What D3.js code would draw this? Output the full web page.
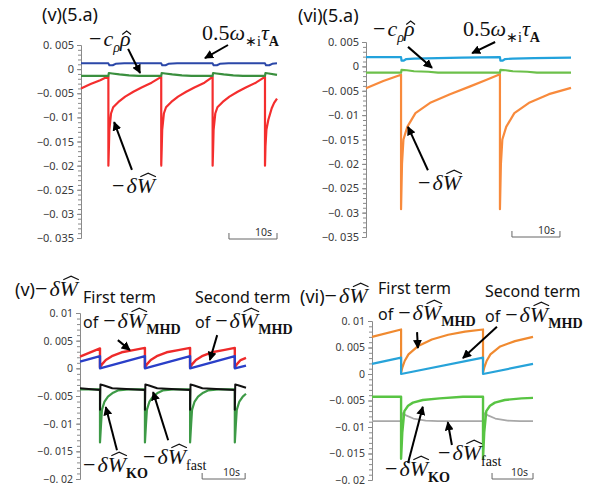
<!DOCTYPE html>
<html>
<head>
<meta charset="utf-8">
<script src="https://cdn.jsdelivr.net/npm/d3@7"></script>
<style>
  body { margin: 0; background: #fff; }
  svg { display: block; }
  svg text { white-space: pre; }
  .axis path, .axis line { stroke: #8a8a8a; }
  .axis text { font-family: "Noto Sans", sans-serif; fill: #3a3a3a; }
</style>
</head>
<body>
<svg id="chart" width="595" height="488"></svg>
<script>
// Tick labels (as printed in the figure)
var tickValuesTop = [0.005, 0, -0.005, -0.01, -0.015, -0.02, -0.025, -0.03, -0.035];
var tickLabelsTop = ["0. 005", "0", "\u22120. 005", "\u22120. 01", "\u22120. 015", "\u22120. 02", "\u22120. 025", "\u22120. 03", "\u22120. 035"];
var tickValuesBottom = [0.01, 0.005, 0, -0.005, -0.01, -0.015, -0.02];
var tickLabelsBottom = ["0. 01", "0. 005", "0", "\u22120. 005", "\u22120. 01", "\u22120. 015", "\u22120. 02"];
var scaleBarSeconds = 10;

// (v)(5.a)  [time s, value]
var dWa = [[0,-0.0040],[2,-0.0031],[4,-0.0023],[5.7,-0.0015],[5.7,-0.0200],[5.8,-0.0165],[5.9,-0.0126],[6.25,-0.0092],[6.7,-0.0079],[7.8,-0.0068],[9.2,-0.0057],[10.9,-0.0047],[12.6,-0.0038],[14.7,-0.0028],[16.7,-0.0016],
  [16.7,-0.0200],[16.8,-0.0165],[16.9,-0.0126],[17.25,-0.0092],[17.7,-0.0079],[18.8,-0.0068],[20.2,-0.0057],[21.9,-0.0047],[23.6,-0.0038],[25.7,-0.0028],[27.4,-0.0016],
  [27.4,-0.0200],[27.5,-0.0165],[27.6,-0.0126],[27.95,-0.0092],[28.4,-0.0079],[29.5,-0.0068],[30.9,-0.0057],[32.6,-0.0047],[34.3,-0.0038],[36.4,-0.0028],[38.3,-0.0016],
  [38.3,-0.0200],[38.4,-0.0160],[38.6,-0.0125],[39.0,-0.0105],[39.7,-0.0081],[40.2,-0.0070],[40.8,-0.0061]];
var omegaA = [[0,0.0012],[5.7,0.0012],[5.9,0.0008],[6.6,0.0008],[7.2,0.0011],[9,0.0012],[16.7,0.0012],[16.9,0.0008],[17.6,0.0008],[18.2,0.0011],[20,0.0012],
  [27.4,0.0012],[27.6,0.0008],[28.3,0.0008],[28.9,0.0011],[30.7,0.0012],[38.3,0.0012],[38.5,0.0008],[39.2,0.0008],[39.8,0.0011],[40.8,0.0012]];
var crhoA = [[0,-0.0014],[5.7,-0.0014],[5.8,-0.0008],[6.5,-0.0009],[8,-0.0011],[10,-0.0013],[12,-0.0014],[16.7,-0.0014],[16.8,-0.0008],[17.5,-0.0009],[19,-0.0011],[21,-0.0013],[23,-0.0014],
  [27.4,-0.0014],[27.5,-0.0008],[28.2,-0.0009],[29.7,-0.0011],[31.7,-0.0013],[33.7,-0.0014],[38.3,-0.0014],[38.4,-0.0008],[39.1,-0.0009],[40.8,-0.0012]];

// (vi)(5.a)
var dWb = [[0,-0.0045],[3.6,-0.0030],[7.3,-0.0017],[7.3,-0.0293],[7.5,-0.0200],[7.8,-0.0150],[8.6,-0.0124],[10.3,-0.0096],[13.5,-0.0074],[17.5,-0.0057],[21.7,-0.0041],[25,-0.0028],[27.9,-0.0016],
  [27.9,-0.0293],[28.1,-0.0200],[28.4,-0.0150],[29.2,-0.0124],[30.9,-0.0096],[34.1,-0.0074],[38.1,-0.0057],[42.7,-0.0044]];
var omegaB = [[0,0.0019],[7.3,0.0019],[7.4,0.0012],[7.9,0.0012],[8.4,0.0015],[10,0.0016],[15,0.0017],[20,0.0018],[27.9,0.0019],[28.0,0.0012],[28.5,0.0012],[29,0.0015],[30.6,0.0016],[35,0.0017],[42.7,0.0018]];
var crhoB = [[0,-0.0013],[7.3,-0.0013],[7.4,-0.0007],[8.5,-0.0008],[10,-0.0010],[13,-0.0011],[15,-0.0013],[27.9,-0.0013],[28.0,-0.0007],[29.1,-0.0008],[30.6,-0.0010],[33.6,-0.0011],[35.6,-0.0013],[42.7,-0.0013]];

// (v) -dW decomposition
var mhd1C = [[0,0.0021],[4.65,0.0036],[4.65,0.0002],[5.2,0.0008],[6,0.0015],[7.4,0.0022],[9.7,0.0029],[12.4,0.0033],[15.1,0.0037],
  [15.1,0.0002],[15.65,0.0008],[16.45,0.0015],[17.85,0.0022],[20.15,0.0029],[22.85,0.0033],[25.6,0.0037],
  [25.6,0.0002],[26.15,0.0008],[26.95,0.0015],[28.35,0.0022],[30.65,0.0029],[33.35,0.0033],[36.0,0.0037],
  [36.0,0.0002],[36.55,0.0008],[37.35,0.0015],[38.6,0.0019]];
var mhd2C = [[0,0.0012],[4.65,0.0022],[4.65,0.0000],[15.1,0.0022],[15.1,0.0000],[25.6,0.0022],[25.6,0.0000],[36.0,0.0022],[36.0,0.0000],[38.6,0.0005]];
var koC = [[0,-0.0038],[4.65,-0.0038],[4.65,-0.0134],[4.9,-0.0100],[5.1,-0.0075],[5.7,-0.0060],[6.5,-0.0051],[7.7,-0.0044],[8.8,-0.0040],[11.2,-0.0038],
  [15.1,-0.0038],[15.1,-0.0134],[15.35,-0.0100],[15.55,-0.0075],[16.15,-0.0060],[16.95,-0.0051],[18.15,-0.0044],[19.25,-0.0040],[21.65,-0.0038],
  [25.6,-0.0038],[25.6,-0.0134],[25.85,-0.0100],[26.05,-0.0075],[26.65,-0.0060],[27.45,-0.0051],[28.65,-0.0044],[29.75,-0.0040],[32.15,-0.0038],
  [36.0,-0.0038],[36.0,-0.0134],[36.25,-0.0100],[36.45,-0.0075],[37.05,-0.0060],[37.85,-0.0051],[38.6,-0.0046]];
var fastC = [[0,-0.0036],[4.65,-0.0039],[4.65,-0.0075],[4.75,-0.0029],[5.6,-0.0031],[7.5,-0.0036],[15.1,-0.0039],[15.1,-0.0075],[15.2,-0.0029],[16.05,-0.0031],[17.95,-0.0036],
  [25.6,-0.0039],[25.6,-0.0075],[25.7,-0.0029],[26.55,-0.0031],[28.45,-0.0036],[36.0,-0.0039],[36.0,-0.0075],[36.1,-0.0029],[36.95,-0.0031],[38.6,-0.0035]];

// (vi) -dW decomposition
var mhd1D = [[0,0.0070],[7.1,0.0084],[7.1,0.0003],[7.4,0.0012],[8.0,0.0025],[8.9,0.0037],[11.3,0.0053],[14.6,0.0065],[18.6,0.0074],[22.7,0.0080],[27.1,0.0084],
  [27.1,0.0003],[27.4,0.0012],[28.0,0.0025],[28.9,0.0037],[31.3,0.0052],[34.9,0.0062],[39.3,0.0070]];
var mhd2D = [[0,0.0019],[7.1,0.0031],[7.1,0.0000],[27.1,0.0031],[27.1,0.0000],[39.3,0.0019]];
var koD = [[0,-0.0043],[7.1,-0.0043],[7.1,-0.0160],[7.4,-0.0110],[7.9,-0.0070],[8.8,-0.0060],[10,-0.0054],[12.4,-0.0049],[16.5,-0.0046],[22.2,-0.0043],
  [27.1,-0.0043],[27.1,-0.0160],[27.4,-0.0110],[27.9,-0.0070],[28.8,-0.0060],[30,-0.0054],[32.4,-0.0049],[36.5,-0.0046],[39.3,-0.0045]];
var fastD = [[0,-0.0089],[7.1,-0.0089],[7.4,-0.0074],[8.3,-0.0078],[10.1,-0.0084],[13.1,-0.0088],[16.1,-0.0089],
  [27.1,-0.0089],[27.4,-0.0074],[28.3,-0.0078],[30.1,-0.0084],[33.1,-0.0088],[36.1,-0.0089],[39.3,-0.0089]];

// math label pieces
var cRho = [{s:"\u2212", gap:2}, {s:"c", it:1}, {s:"\u03c1", it:1, sub:1}, {s:"\u03c1", it:1, hat:"lo"}];
var omegaLbl = [{s:"0.5"}, {s:"\u03c9", it:1}, {s:"\u2217i", sub:1}, {s:"\u03c4", it:1}, {s:"A", sub:1, bold:1}];
function dWhat(sub, bold) {
    var p = [{s:"\u2212", gap:2}, {s:"\u03b4", it:1}, {s:"W", it:1, hat:"hi"}];
    if (sub) p.push({s:sub, sub:1, bold:bold});
    return p;
}
function ofMHD() { return [{s:"of", sans:1, fs:16, gap:5}].concat(dWhat("MHD", 1)); }

var svg = d3.select("#chart");
svg.append("defs").append("marker")
    .attr("id", "ah")
    .attr("viewBox", "0 0 10 10")
    .attr("refX", 9).attr("refY", 5)
    .attr("markerWidth", 4.5).attr("markerHeight", 4.5)
    .attr("orient", "auto")
    .append("path").attr("d", "M0,0 L10,5 L0,10 z").attr("fill", "#000");

function mathLabel(g, x, y, parts, size) {
    var cx = x;
    parts.forEach(function(p) {
        var fs = p.fs || (p.sub ? size * 0.64 : size);
        var t = g.append("text")
            .attr("x", cx)
            .attr("y", y + (p.sub ? size * 0.27 : 0))
            .style("font-family", p.sans ? '"Noto Sans", sans-serif' : '"Liberation Serif", serif')
            .style("font-size", fs + "px")
            .style("font-style", p.it ? "italic" : "normal")
            .style("font-weight", p.bold ? "bold" : "normal")
            .attr("fill", "#111")
            .text(p.s);
        var w = t.node().getComputedTextLength();
        if (p.hat) {
            var top = p.hat == "hi" ? y - size * 0.74 : y - size * 0.52;
            var x0 = cx + w * (p.hat == "hi" ? 0.2 : 0.22), x1 = cx + w * 1.05;
            g.append("path")
                .attr("d", "M" + x0 + "," + top + " L" + ((x0 + x1) / 2) + "," + (top - 3.5) + " L" + x1 + "," + top)
                .attr("fill", "none").attr("stroke", "#111").attr("stroke-width", 1.2);
        }
        cx += w + (p.gap || 0);
    });
    return cx;
}

var panels = [
    {xr:[81,277], tEnd:40.8, yr:[238,45], dom:[-0.035,0.005], ticks:tickValuesTop, labels:tickLabelsTop, tfs:11,
     series:[{d:dWa, c:"#f42e2e", w:2.2}, {d:crhoA, c:"#3a8f3e", w:2.2}, {d:omegaA, c:"#2b47a8", w:2}],
     bar:[30.8, 239],
     arrows:[[9.8,0.0042,12.3,-0.0008],[30.6,0.005,25.8,0.0023],[10.6,-0.0209,6.9,-0.0110]],
     texts:[{x:42,y:21,p:[{s:"(v)(5.a)", sans:1, fs:18}]}, {x:89,y:46,p:cRho}, {x:202,y:40,p:omegaLbl}, {x:112,y:193,p:dWhat()}]},
    {xr:[366,571], tEnd:42.7, yr:[237,42], dom:[-0.035,0.005], ticks:tickValuesTop, labels:tickLabelsTop, tfs:11,
     series:[{d:dWb, c:"#f88a3c", w:2.2}, {d:crhoB, c:"#6cc04a", w:2.2}, {d:omegaB, c:"#22a2dc", w:2.2}],
     bar:[30.4, 237],
     arrows:[[8.75,0.0040,13.75,-0.0003],[26.9,0.005,22.1,0.0027],[12.9,-0.0213,8.75,-0.0124]],
     texts:[{x:298,y:22,p:[{s:"(vi)(5.a)", sans:1, fs:18}]}, {x:373,y:36,p:cRho}, {x:463,y:36,p:omegaLbl}, {x:418,y:190,p:dWhat()}]},
    {xr:[80,246], tEnd:38.6, yr:[479,313], dom:[-0.02,0.01], ticks:tickValuesBottom, labels:tickLabelsBottom, tfs:10.5,
     series:[{d:mhd1C, c:"#ee2a2a", w:2.4}, {d:mhd2C, c:"#2a3fc8", w:2.4}, {d:koC, c:"#3d9a46", w:2.2}, {d:fastC, c:"#111", w:2}],
     bar:[28.4, 479],
     arrows:[[8.8,0.0051,11.6,0.0033],[31.9,0.0060,30.2,0.0015],[8.6,-0.0148,6.0,-0.0070],[20.5,-0.0130,17.0,-0.0043]],
     texts:[{x:15,y:296,p:[{s:"(v)", sans:1, fs:18}].concat(dWhat())},
            {x:83,y:303,p:[{s:"First term", sans:1, fs:16}]}, {x:83,y:328,p:ofMHD()},
            {x:195,y:303,p:[{s:"Second term", sans:1, fs:16}]}, {x:195,y:328,p:ofMHD()},
            {x:83,y:472,p:dWhat("KO", 1)}, {x:143,y:464,p:dWhat("fast")}]},
    {xr:[372,533], tEnd:39.3, yr:[480,321], dom:[-0.02,0.01], ticks:tickValuesBottom, labels:tickLabelsBottom, tfs:10.5,
     series:[{d:fastD, c:"#a8a8a8", w:1.8}, {d:koD, c:"#58c443", w:2.4}, {d:mhd1D, c:"#f08a30", w:2.2}, {d:mhd2D, c:"#27a3d9", w:2.2}],
     bar:[29.3, 479],
     arrows:[[11.0,0.0079,11.2,0.0049],[30.5,0.0089,22.2,0.0030],[8.8,-0.0168,12.4,-0.0062],[19.5,-0.0134,18.5,-0.0091]],
     texts:[{x:300,y:303,p:[{s:"(vi)", sans:1, fs:18}].concat(dWhat())},
            {x:378,y:294,p:[{s:"First term", sans:1, fs:16}]}, {x:378,y:320,p:ofMHD()},
            {x:485,y:297,p:[{s:"Second term", sans:1, fs:16}]}, {x:485,y:322,p:ofMHD()},
            {x:385,y:476,p:dWhat("KO", 1)}, {x:438,y:460,p:dWhat("fast")}]}
];

panels.forEach(function(P) {
    var g = svg.append("g");
    var x = d3.scaleLinear().domain([0, P.tEnd]).range(P.xr);
    var y = d3.scaleLinear().domain(P.dom).range(P.yr);

    // minor ticks
    g.append("g").attr("class", "axis")
        .attr("transform", "translate(" + P.xr[0] + ",0)")
        .call(d3.axisLeft(y).tickValues(d3.range(P.dom[0], P.dom[1] + 1e-9, 0.001)).tickSize(3).tickSizeOuter(0).tickFormat(""));
    // major ticks with labels
    var ax = g.append("g").attr("class", "axis")
        .attr("transform", "translate(" + P.xr[0] + ",0)")
        .call(d3.axisLeft(y).tickValues(P.ticks).tickSize(4).tickSizeOuter(0).tickPadding(3)
            .tickFormat(function(d, i) { return P.labels[i]; }));
    ax.selectAll("text").style("font-size", P.tfs + "px");

    var line = d3.line()
        .x(function(d) { return x(d[0]); })
        .y(function(d) { return y(d[1]); });

    P.series.forEach(function(s) {
        g.append("path")
            .datum(s.d)
            .attr("d", line)
            .attr("fill", "none")
            .attr("stroke", s.c)
            .attr("stroke-width", s.w)
            .attr("stroke-linejoin", "round");
    });

    // scale bar
    var bx0 = x(P.bar[0]), bx1 = x(P.bar[0] + scaleBarSeconds), by = P.bar[1];
    g.append("path")
        .attr("d", "M" + bx0 + "," + (by - 6) + " V" + by + " H" + bx1 + " V" + (by - 6))
        .attr("fill", "none").attr("stroke", "#666").attr("stroke-width", 1);
    g.append("text")
        .attr("x", bx1 - 5).attr("y", by - 3)
        .attr("text-anchor", "end")
        .style("font-family", '"Noto Sans", sans-serif')
        .style("font-size", "10.5px")
        .attr("fill", "#333")
        .text(scaleBarSeconds + "s");

    // arrows
    P.arrows.forEach(function(a) {
        g.append("line")
            .attr("x1", x(a[0])).attr("y1", y(a[1]))
            .attr("x2", x(a[2])).attr("y2", y(a[3]))
            .attr("stroke", "#000").attr("stroke-width", 2)
            .attr("marker-end", "url(#ah)");
    });

    P.texts.forEach(function(t) {
        mathLabel(g, t.x, t.y, t.p, 22);
    });
});
</script>
</body>
</html>
